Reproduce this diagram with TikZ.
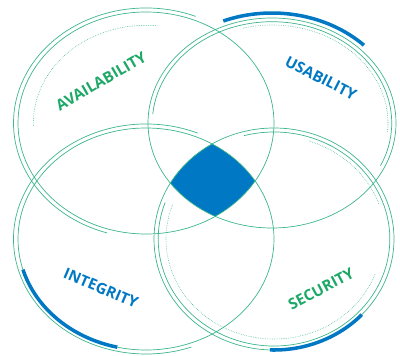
\documentclass[tikz,border=0pt]{standalone}
\usepackage{fontspec}
\setmainfont{Open Sans}
\usetikzlibrary{positioning}
\definecolor{venngreen}{RGB}{60,182,138}
\definecolor{labelgreen}{RGB}{30,168,104}
\definecolor{vennblue}{RGB}{0,120,196}

\begin{document}
\begin{tikzpicture}[x=0.03cm,y=0.03cm,
  ring/.style={venngreen,line width=0.6pt},
  ringdot/.style={venngreen,line width=0.5pt,densely dotted},
  ringblue/.style={vennblue,line width=3pt},
  every node/.style={font=\fontsize{13}{15}\selectfont\bfseries,inner sep=0pt}]
  \useasboundingbox (0,0) rectangle (400,355);
  \coordinate (avail) at (146,232);
  \coordinate (usab) at (272,232);
  \coordinate (integ) at (146,116);
  \coordinate (secur) at (274,116);

  \begin{scope}
    \clip (avail) ellipse [x radius=128,y radius=111];
    \clip (usab) ellipse [x radius=124,y radius=105];
    \clip (integ) ellipse [x radius=128,y radius=111];
    \fill[vennblue] (secur) ellipse [x radius=120,y radius=111];
  \end{scope}

  \draw[ring] (avail) ellipse [x radius=128,y radius=111];
  \draw[ring] (usab) ellipse [x radius=124,y radius=105];
  \draw[ring] (integ) ellipse [x radius=128,y radius=111];
  \draw[ring] (secur) ellipse [x radius=120,y radius=111];

  \begin{scope}[shift={(avail)}]
    \draw[ring] (68:132.5 and 115) arc[start angle=68,end angle=253,x radius=132.5,y radius=115];
    \draw[ringdot] (85:112.6 and 97.7) arc[start angle=85,end angle=182,x radius=112.6,y radius=97.7];
  \end{scope}
  \begin{scope}[shift={(usab)}]
    \draw[ring] (-25:119.7 and 101.3) arc[start angle=-25,end angle=175,x radius=119.7,y radius=101.3];
    \draw[ringdot] (-5:116 and 98) arc[start angle=-5,end angle=105,x radius=116,y radius=98];
    \draw[ringblue] (45:130 and 110) arc[start angle=45,end angle=112,x radius=130,y radius=110];
  \end{scope}
  \begin{scope}[shift={(integ)}]
    \draw[ring] (67:132.5 and 115) arc[start angle=67,end angle=290,x radius=132.5,y radius=115];
    \draw[ringblue] (196:128 and 111) arc[start angle=196,end angle=257,x radius=128,y radius=111];
  \end{scope}
  \begin{scope}[shift={(secur)}]
    \draw[ring] (105:115.8 and 107) arc[start angle=105,end angle=-200,x radius=115.8,y radius=107];
    \draw[ringdot] (20:111.6 and 103.2) arc[start angle=20,end angle=72,x radius=111.6,y radius=103.2];
    \draw[ringdot] (160:108 and 100) arc[start angle=160,end angle=340,x radius=108,y radius=100];
    \draw[ringblue] (268:120 and 111) arc[start angle=268,end angle=317,x radius=120,y radius=111];
  \end{scope}

  \node[labelgreen,rotate=30] (availtext) at (101,274) {AVAILABILITY};
  \node[vennblue,rotate=-27] (usabtext) at (321,277) {USABILITY};
  \node[vennblue,rotate=-23] (integtext) at (101,67) {INTEGRITY};
  \node[labelgreen,rotate=28] (securtext) at (321,66) {SECURITY};
\end{tikzpicture}
\end{document}
